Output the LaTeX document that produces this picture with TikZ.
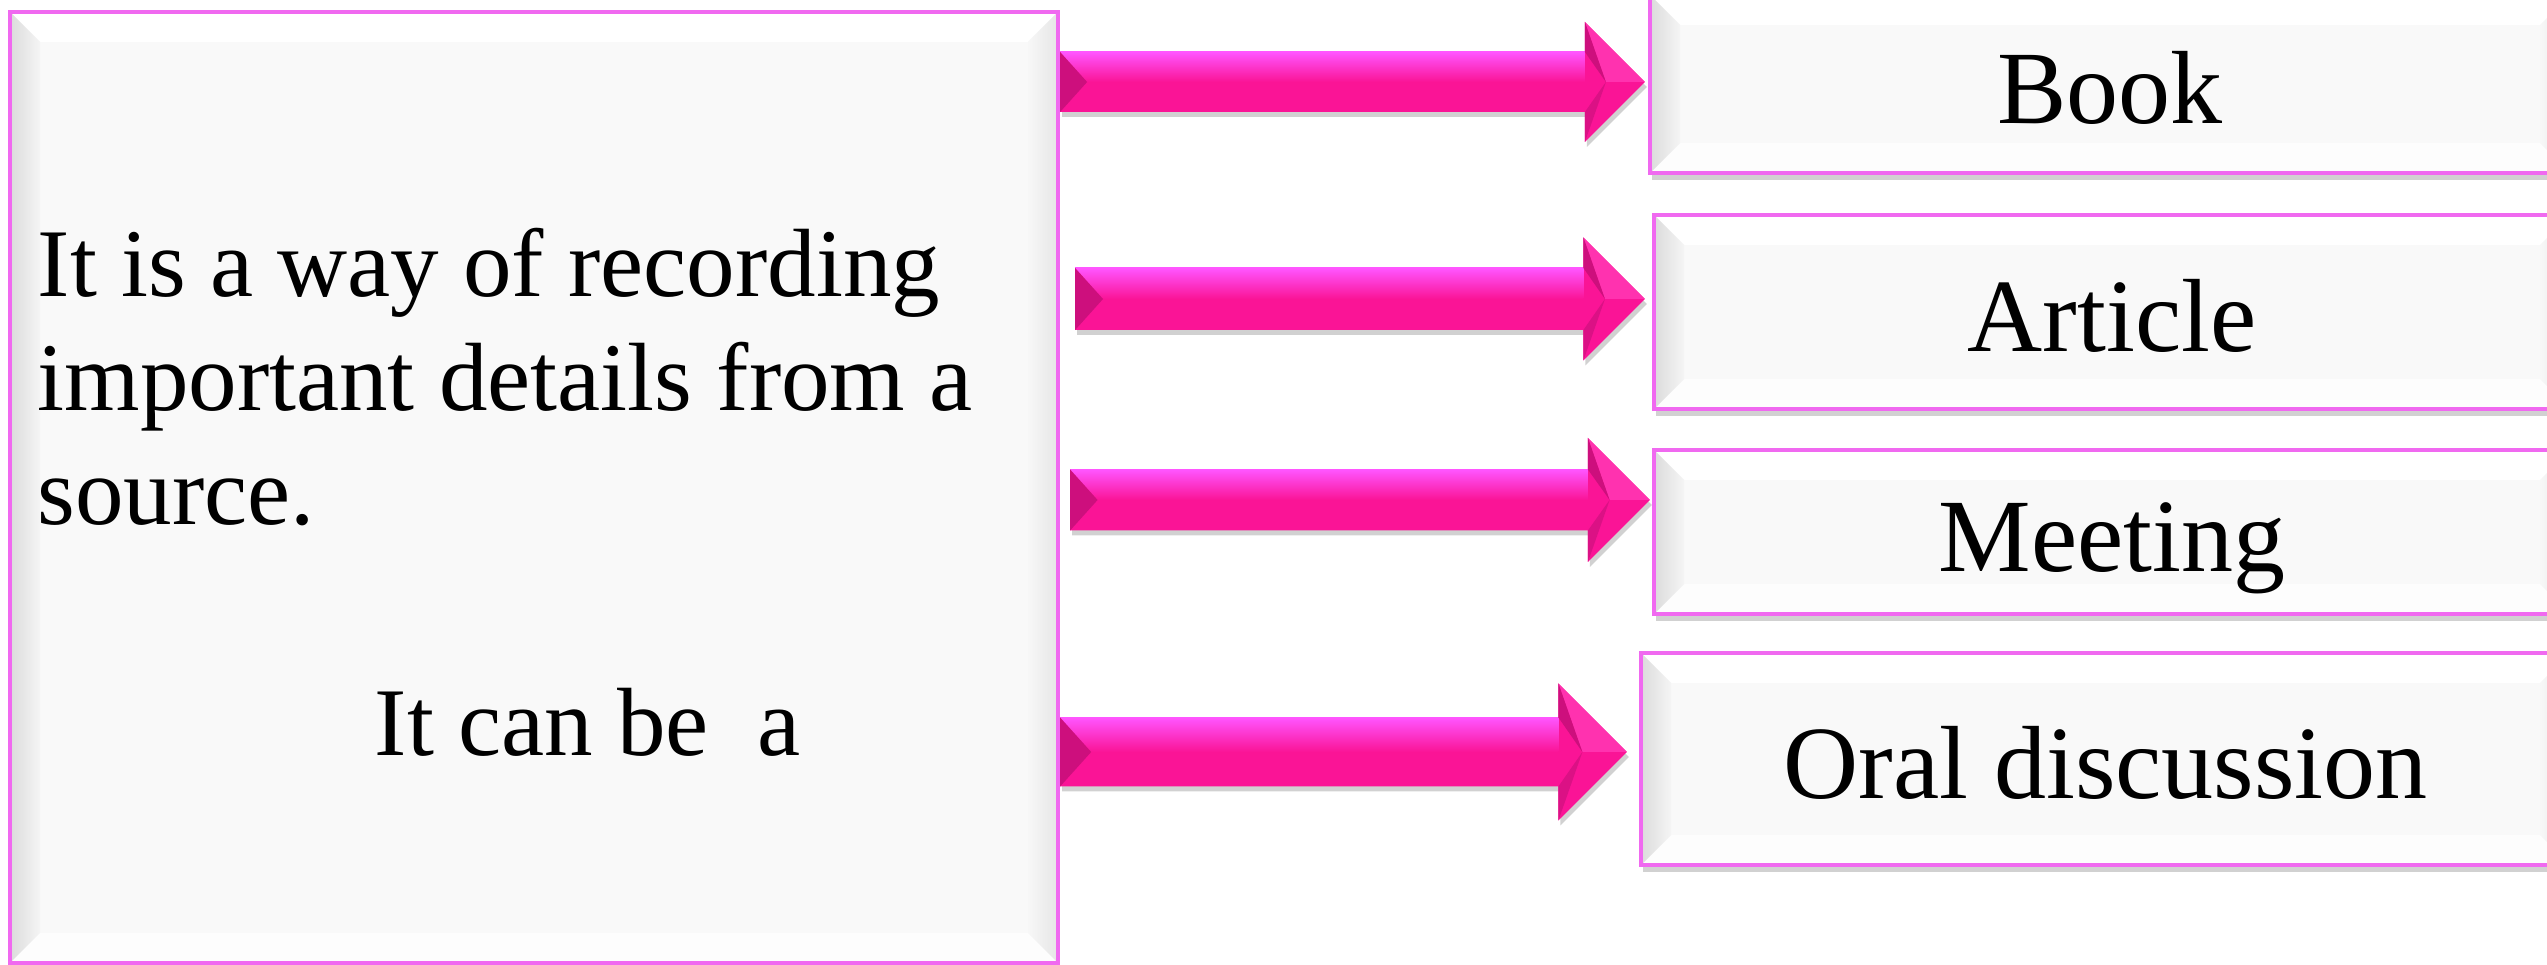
\documentclass[tikz,border=0pt]{standalone}
\usepackage{fontspec}
\setmainfont{Liberation Serif}
\usetikzlibrary{positioning,calc,shadows}
\definecolor{fcpink}{RGB}{250,20,150}
\definecolor{fcpinkhi}{RGB}{255,85,255}
\definecolor{fcpinkdark}{RGB}{205,15,125}
\definecolor{fcpinklite}{RGB}{255,50,175}
\definecolor{fcedge}{RGB}{240,105,240}
\definecolor{fcfill}{RGB}{249,249,249}
\def\fcbev{0.3}
\tikzset{
  fcbox/.style={draw=fcedge, line width=1.2pt, fill=fcfill, inner sep=0pt, rectangle,
    drop shadow={shadow xshift=0.02cm, shadow yshift=-0.07cm, opacity=0.3, fill=black!60},
    path picture={
      \path (path picture bounding box.south west) coordinate (bb1)
            (path picture bounding box.north east) coordinate (bb2);
      % bevel faces
      \fill[white] (bb1 |- bb2) -- (bb2) -- ++(-\fcbev,-\fcbev) -- ($(bb1 |- bb2)+(\fcbev,-\fcbev)$) -- cycle;
      \fill[white!60!fcfill] (bb1) -- (bb2 |- bb1) -- ++(-\fcbev,\fcbev) -- ($(bb1)+(\fcbev,\fcbev)$) -- cycle;
      \shade[left color=black!14, right color=black!4] (bb1) -- (bb1 |- bb2) -- ++(\fcbev,-\fcbev) -- ($(bb1)+(\fcbev,\fcbev)$) -- cycle;
      \shade[left color=black!3, right color=black!10] (bb2) -- (bb2 |- bb1) -- ++(-\fcbev,\fcbev) -- ($(bb2)+(-\fcbev,-\fcbev)$) -- cycle;
    }},
  fclabel/.style={font=\fontsize{29.6}{34}\selectfont, text height=0.95cm, text depth=0.15cm},
  fctext/.style={font=\fontsize{27.6}{32.5}\selectfont, inner sep=0pt, anchor=base west},
}
% block arrow: tail, tip, shaft half height, head half height
\newcommand{\fcarrow}[4]{%
  \fill[fcpink, drop shadow={shadow xshift=0.02cm, shadow yshift=-0.05cm, opacity=0.3, fill=black!60}]
    ($(#1)+(0,#3)$) -- ($(#2)+(-#4,#3)$) -- ($(#2)+(-#4,#4)$) -- (#2) -- ($(#2)+(-#4,-#4)$)
    -- ($(#2)+(-#4,-#3)$) -- ($(#1)+(0,-#3)$) -- cycle;
  \shade[top color=fcpinkhi, bottom color=fcpink] ($(#1)+(0,#3)$) rectangle ($(#2)+(-#4,0)$);
  \fill[fcpinkdark] ($(#1)+(0,#3)$) -- ($(#1)+(0,-#3)$) -- ($(#1)+(0.9*#3,0)$) -- cycle;
  \fill[fcpinklite] ($(#2)+(-#4,#4)$) -- (#2) -- ($(#2)+(-0.65*#4,0)$) -- cycle;
  \fill[fcpinkdark] ($(#2)+(-#4,#4)$) -- ($(#2)+(-#4,#3)$) -- ($(#2)+(-0.65*#4,0)$) -- cycle;
  \fill[fcpinkdark!70!fcpink] ($(#2)+(-#4,-#4)$) -- ($(#2)+(-#4,-#3)$) -- ($(#2)+(-0.65*#4,0)$) -- cycle;
}
\begin{document}
\begin{tikzpicture}
  \useasboundingbox (0,0) rectangle (25.47,9.65);
  \clip (0,0) rectangle (25.47,9.65);
  % ---------------- boxes ----------------
  \node[fcbox, minimum width=10.48cm, minimum height=9.51cm] (src) at (5.34,4.775) {};
  \node[fctext, align=left] (desc) at (0.37,4.40) {It is a way of recording\\important details from a\\source.};
  \node[fctext] (canbe) at (3.74,2.09) {It can be\ \ a};
  \node[fcbox, fclabel, minimum width=9.20cm, minimum height=1.78cm] (book) at (21.10,8.81) {Book};
  \node[fcbox, fclabel, minimum width=9.16cm, minimum height=1.94cm] (article) at (21.12,6.53) {Article};
  \node[fcbox, fclabel, minimum width=9.16cm, minimum height=1.64cm] (meeting) at (21.12,4.33) {Meeting};
  \node[fcbox, fclabel, minimum width=9.29cm, minimum height=2.12cm] (oral) at (21.055,2.06) {Oral discussion};
  % ---------------- arrows ----------------
  \coordinate (t1) at ($(book.west)+(-0.03,0.02)$);
  \coordinate (t2) at ($(article.west)+(-0.07,0.13)$);
  \coordinate (t3) at ($(meeting.west)+(-0.02,0.32)$);
  \coordinate (t4) at ($(oral.west)+(-0.12,0.07)$);
  \coordinate (s1) at (src.east |- t1);
  \coordinate (s2) at ($(src.east |- t2)+(0.15,0)$);
  \coordinate (s3) at ($(src.east |- t3)+(0.10,0)$);
  \coordinate (s4) at (src.east |- t4);
  \fcarrow{s1}{t1}{0.30}{0.60}
  \fcarrow{s2}{t2}{0.31}{0.615}
  \fcarrow{s3}{t3}{0.305}{0.62}
  \fcarrow{s4}{t4}{0.345}{0.685}
\end{tikzpicture}
\end{document}
